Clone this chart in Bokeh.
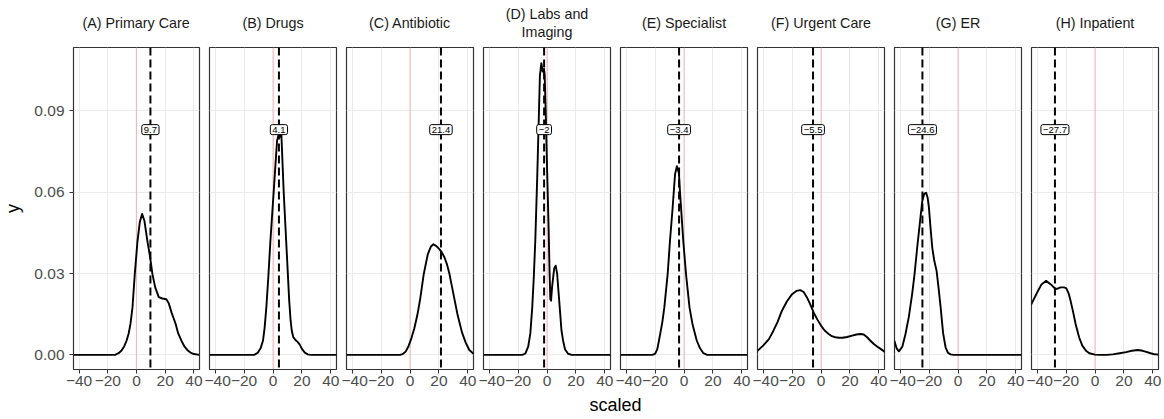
from bokeh.plotting import figure
from bokeh.models import Range1d, FixedTicker, Label, Span, Grid, NumeralTickFormatter
from bokeh.layouts import row, column
from bokeh.embed import file_html
from bokeh.resources import INLINE

# Facet titles (one list entry per line) and the mean shift of each service category
panel_titles = [
    ["(A) Primary Care"], ["(B) Drugs"], ["(C) Antibiotic"], ["(D) Labs and", "Imaging"],
    ["(E) Specialist"], ["(F) Urgent Care"], ["(G) ER"], ["(H) Inpatient"],
]
mean_values = [9.7, 4.1, 21.4, -2, -3.4, -5.5, -24.6, -27.7]

x_ticks = [-40, -20, 0, 20, 40]
x_tick_labels = ["\u221240", "\u221220", "0", "20", "40"]
y_ticks = [0.0, 0.03, 0.06, 0.09]

# Density curves (scaled value -> density), one pair of arrays per facet
a_x = [-43.9, -15, -12.5, -10.4, -8.5, -6.9, -5.5, -4.2, -2.8, -1.2, 0.7, 2.3, 3.9, 5.5, 7.6,
       9.5, 11.1, 13, 15.5, 18, 20.8, 22.5, 24.5, 27.3, 29, 31.2, 33.5, 35.8, 38, 40, 43.9]
a_y = [0, 0, 0.0006, 0.0016, 0.0032, 0.0053, 0.0078, 0.0114, 0.0175, 0.0298, 0.042, 0.049,
       0.052, 0.0495, 0.042, 0.036, 0.0298, 0.025, 0.0213, 0.0208, 0.0205, 0.019, 0.0155,
       0.0114, 0.008, 0.0053, 0.003, 0.0016, 0.0007, 0.0003, 0]

b_x = [-43.9, -13, -10.5, -8.5, -6.9, -5.8, -4.6, -3.2, -1.8, 0.5, 2.8, 4, 5, 5.8, 7.4, 9.3,
       11.2, 12.2, 13, 14, 15.5, 17, 18.5, 20, 22, 24, 26, 43.9]
b_y = [0, 0, 0.0008, 0.0025, 0.0053, 0.01, 0.0175, 0.029, 0.042, 0.0604, 0.079, 0.0815,
       0.0805, 0.0812, 0.06, 0.04, 0.02, 0.0125, 0.0088, 0.0066, 0.0055, 0.0048, 0.0038,
       0.0022, 0.0008, 0.0002, 0, 0]

c_x = [-43.9, -7, -5, -3, -1, 1, 3, 5, 7, 9.5, 12.3, 14.5, 16.2, 18, 20.3, 22, 23.8, 25.5,
       27.3, 30, 33, 36, 38.5, 41, 43.9]
c_y = [0, 0, 0.0003, 0.0012, 0.0032, 0.0062, 0.0098, 0.0145, 0.0205, 0.0298, 0.0371, 0.04,
       0.0408, 0.0402, 0.039, 0.0378, 0.036, 0.0335, 0.0298, 0.0225, 0.0145, 0.0082, 0.0045,
       0.0018, 0.0004]

d_x = [-43.9, -17, -15, -13, -11.5, -10.2, -9.1, -8.1, -6.7, -5.5, -4.9, -3.9, -3, -2.1, -1.6,
       -0.9, 0, 1.2, 1.8, 2.3, 2.8, 3.5, 5, 6, 7, 8, 8.8, 10, 11.1, 12.5, 14.6, 17, 43.9]
d_y = [0, 0, 0.0005, 0.003, 0.008, 0.0175, 0.029, 0.042, 0.0666, 0.091, 0.103, 0.1076, 0.1045,
       0.1055, 0.103, 0.09, 0.07, 0.045, 0.03, 0.0205, 0.02, 0.025, 0.032, 0.0329, 0.03, 0.023,
       0.0175, 0.009, 0.0053, 0.002, 0.0004, 0, 0]

e_x = [-43.9, -22, -20, -18.5, -17.3, -15, -13.6, -11.3, -9.7, -7.9, -6.2, -4.9, -3.5, -2.8,
       -1.5, -0.5, 1.4, 3.8, 6, 8.8, 11, 13.4, 16, 43.9]
e_y = [0, 0, 0.0004, 0.002, 0.0053, 0.012, 0.0175, 0.0298, 0.042, 0.054, 0.0666, 0.0696, 0.067,
       0.0604, 0.05, 0.042, 0.0298, 0.0175, 0.011, 0.0053, 0.0025, 0.0006, 0, 0]

f_x = [-43.9, -40, -36, -32.8, -30, -27, -23.5, -20, -17, -14.3, -12, -9.7, -7.5, -5.1, -2.5,
       0, 2.5, 5.3, 7.5, 9.9, 12.5, 15, 18, 21.5, 24.5, 27.3, 29.5, 31.9, 34, 36.5, 39, 41.2, 43.9]
f_y = [0.0015, 0.0034, 0.0058, 0.009, 0.0122, 0.0163, 0.0198, 0.0224, 0.0236, 0.0239, 0.0232,
       0.0212, 0.0187, 0.0157, 0.013, 0.0108, 0.009, 0.0077, 0.0069, 0.0065, 0.0063, 0.0063,
       0.0066, 0.0071, 0.0075, 0.0077, 0.0075, 0.0065, 0.0053, 0.004, 0.003, 0.0022, 0.0012]

g_x = [-43.9, -42.5, -40.9, -38.5, -36.3, -34, -31.7, -30, -28.2, -26.5, -24.7, -23.3, -22, -21,
       -20.1, -19, -17.8, -16.5, -14.8, -13.5, -12, -10.3, -8.6, -7, -5.1, -3, 43.9]
g_y = [0.005, 0.0025, 0.0013, 0.003, 0.0077, 0.014, 0.0224, 0.03, 0.0396, 0.048, 0.0568, 0.0595,
       0.0598, 0.058, 0.0543, 0.047, 0.0396, 0.035, 0.031, 0.025, 0.0175, 0.008, 0.0028, 0.0008,
       0.0002, 0, 0]

h_x = [-43.9, -40, -37, -33.8, -30.5, -27.3, -25.5, -23.8, -21.5, -19.9, -18.3, -16.9, -15,
       -13.4, -11, -8.8, -6, -3.9, 0, 3, 8, 12.3, 17, 21.5, 25.5, 29.6, 33, 35.4, 38.5, 41.2, 43.9]
h_y = [0.0188, 0.023, 0.026, 0.0273, 0.026, 0.0243, 0.0245, 0.0249, 0.0249, 0.0246, 0.0228,
       0.02, 0.0155, 0.0114, 0.0065, 0.0034, 0.0014, 0.0006, 0.0001, 0, 0, 0.0002, 0.0006, 0.001,
       0.0015, 0.0018, 0.0015, 0.0011, 0.0006, 0.0002, 0.0001]

curves_x = [a_x, b_x, c_x, d_x, e_x, f_x, g_x, h_x]
curves_y = [a_y, b_y, c_y, d_y, e_y, f_y, g_y, h_y]

LABEL_Y = 0.0831
FONT = "Liberation Sans"
TOTAL_W = 1164
FRAME_W = 127
STRIP_H = 45
TOP = 2
BOTTOM = 26
PANEL_H = 350
FOOT_H = 24
X_LO, X_HI = -43.9, 43.9
Y_LO, Y_HI = -0.0054, 0.1134


def fmt_value(v):
    return f"{v:g}".replace("-", "\u2212")


panels = []
frame_centres = []
cursor = 0
n = len(panel_titles)
for i in range(n):
    first = i == 0
    last = i == n - 1
    left = 72 if first else 5
    right = 6 if last else 5
    frame_centres.append(cursor + left + FRAME_W / 2)
    cursor += left + FRAME_W + right
    p = figure(
        width=left + FRAME_W + right, height=PANEL_H,
        x_range=Range1d(X_LO, X_HI), y_range=Range1d(Y_LO, Y_HI),
        output_backend="svg", toolbar_location=None,
        y_axis_location="left" if first else None,
        min_border_left=left, min_border_right=right,
        min_border_top=TOP, min_border_bottom=BOTTOM,
    )
    p.background_fill_color = "white"
    p.border_fill_color = "white"
    p.outline_line_color = "#333333"
    p.outline_line_width = 1.2

    # x axis
    p.xaxis.ticker = FixedTicker(ticks=x_ticks)
    p.xaxis.major_label_overrides = dict(zip(x_ticks, x_tick_labels))
    p.xaxis.axis_line_color = None
    p.xaxis.major_tick_line_color = "#333333"
    p.xaxis.major_tick_out = 4
    p.xaxis.major_tick_in = 0
    p.xaxis.minor_tick_line_color = None
    p.xaxis.major_label_text_font = FONT
    p.xaxis.major_label_text_font_size = "15.5px"
    p.xaxis.major_label_text_color = "#4D4D4D"
    p.xaxis.major_label_standoff = 2

    if first:
        p.yaxis.ticker = FixedTicker(ticks=y_ticks)
        p.yaxis.formatter = NumeralTickFormatter(format="0.00")
        p.yaxis.axis_line_color = None
        p.yaxis.major_tick_line_color = "#333333"
        p.yaxis.major_tick_out = 4
        p.yaxis.major_tick_in = 0
        p.yaxis.minor_tick_line_color = None
        p.yaxis.major_label_text_font = FONT
        p.yaxis.major_label_text_font_size = "15.5px"
        p.yaxis.major_label_text_color = "#4D4D4D"
        p.yaxis.major_label_standoff = 5
        p.yaxis.axis_label = "y"
        p.yaxis.axis_label_text_font = FONT
        p.yaxis.axis_label_text_font_size = "18px"
        p.yaxis.axis_label_text_font_style = "normal"
        p.yaxis.axis_label_text_color = "black"
        p.yaxis.axis_label_standoff = 8
    if len(p.ygrid) == 0:
        p.add_layout(Grid(dimension=1, ticker=FixedTicker(ticks=y_ticks)))

    p.xgrid.ticker = FixedTicker(ticks=x_ticks)
    p.ygrid.ticker = FixedTicker(ticks=y_ticks)
    p.xgrid.grid_line_color = "#EBEBEB"
    p.ygrid.grid_line_color = "#EBEBEB"
    p.xgrid.minor_grid_line_color = None
    p.ygrid.minor_grid_line_color = None

    # reference line at zero
    p.add_layout(Span(location=0, dimension="height", line_color="red",
                      line_alpha=0.2, line_width=1.3, level="underlay"))

    # density curve
    p.line(curves_x[i], curves_y[i], line_color="black", line_width=1.9,
           line_join="round", line_cap="round")

    # mean marker and its value
    p.add_layout(Span(location=mean_values[i], dimension="height", line_color="black",
                      line_width=2, line_dash="8 4"))
    p.add_layout(Label(x=mean_values[i], y=LABEL_Y, text=fmt_value(mean_values[i]),
                       text_align="center", text_baseline="middle",
                       text_font=FONT, text_font_size="9.5px", text_color="black",
                       background_fill_color="white", border_line_color="black",
                       border_line_width=1, padding=2, border_radius=2))
    panels.append(p)


def text_band(height):
    """A blank full-width canvas measured in pixels, used for shared text."""
    band = figure(width=TOTAL_W, height=height, x_range=Range1d(0, TOTAL_W),
                  y_range=Range1d(0, height), output_backend="svg", toolbar_location=None,
                  x_axis_location=None, y_axis_location=None, min_border=0)
    band.outline_line_color = None
    band.grid.visible = False
    return band


# facet strip labels, centred over each panel and vertically within the strip
strip = text_band(STRIP_H)
line_step = 18
for centre_x, lines in zip(frame_centres, panel_titles):
    for k, text in enumerate(lines):
        y = STRIP_H / 2 + (len(lines) - 1) * line_step / 2 - k * line_step
        strip.add_layout(Label(x=centre_x, y=y, text=text, text_align="center",
                               text_baseline="middle", text_font=FONT,
                               text_font_size="14.3px", text_color="#1A1A1A"))

# shared x-axis title underneath the facets
foot = text_band(FOOT_H)
foot.add_layout(Label(x=(frame_centres[0] + frame_centres[-1]) / 2, y=15, text="scaled",
                      text_align="center", text_baseline="middle", text_font=FONT,
                      text_font_size="18px", text_color="black"))

layout = column(strip, row(panels, spacing=0), foot, spacing=0)

with open("out.html", "w") as fh:
    fh.write(file_html(layout, INLINE))
